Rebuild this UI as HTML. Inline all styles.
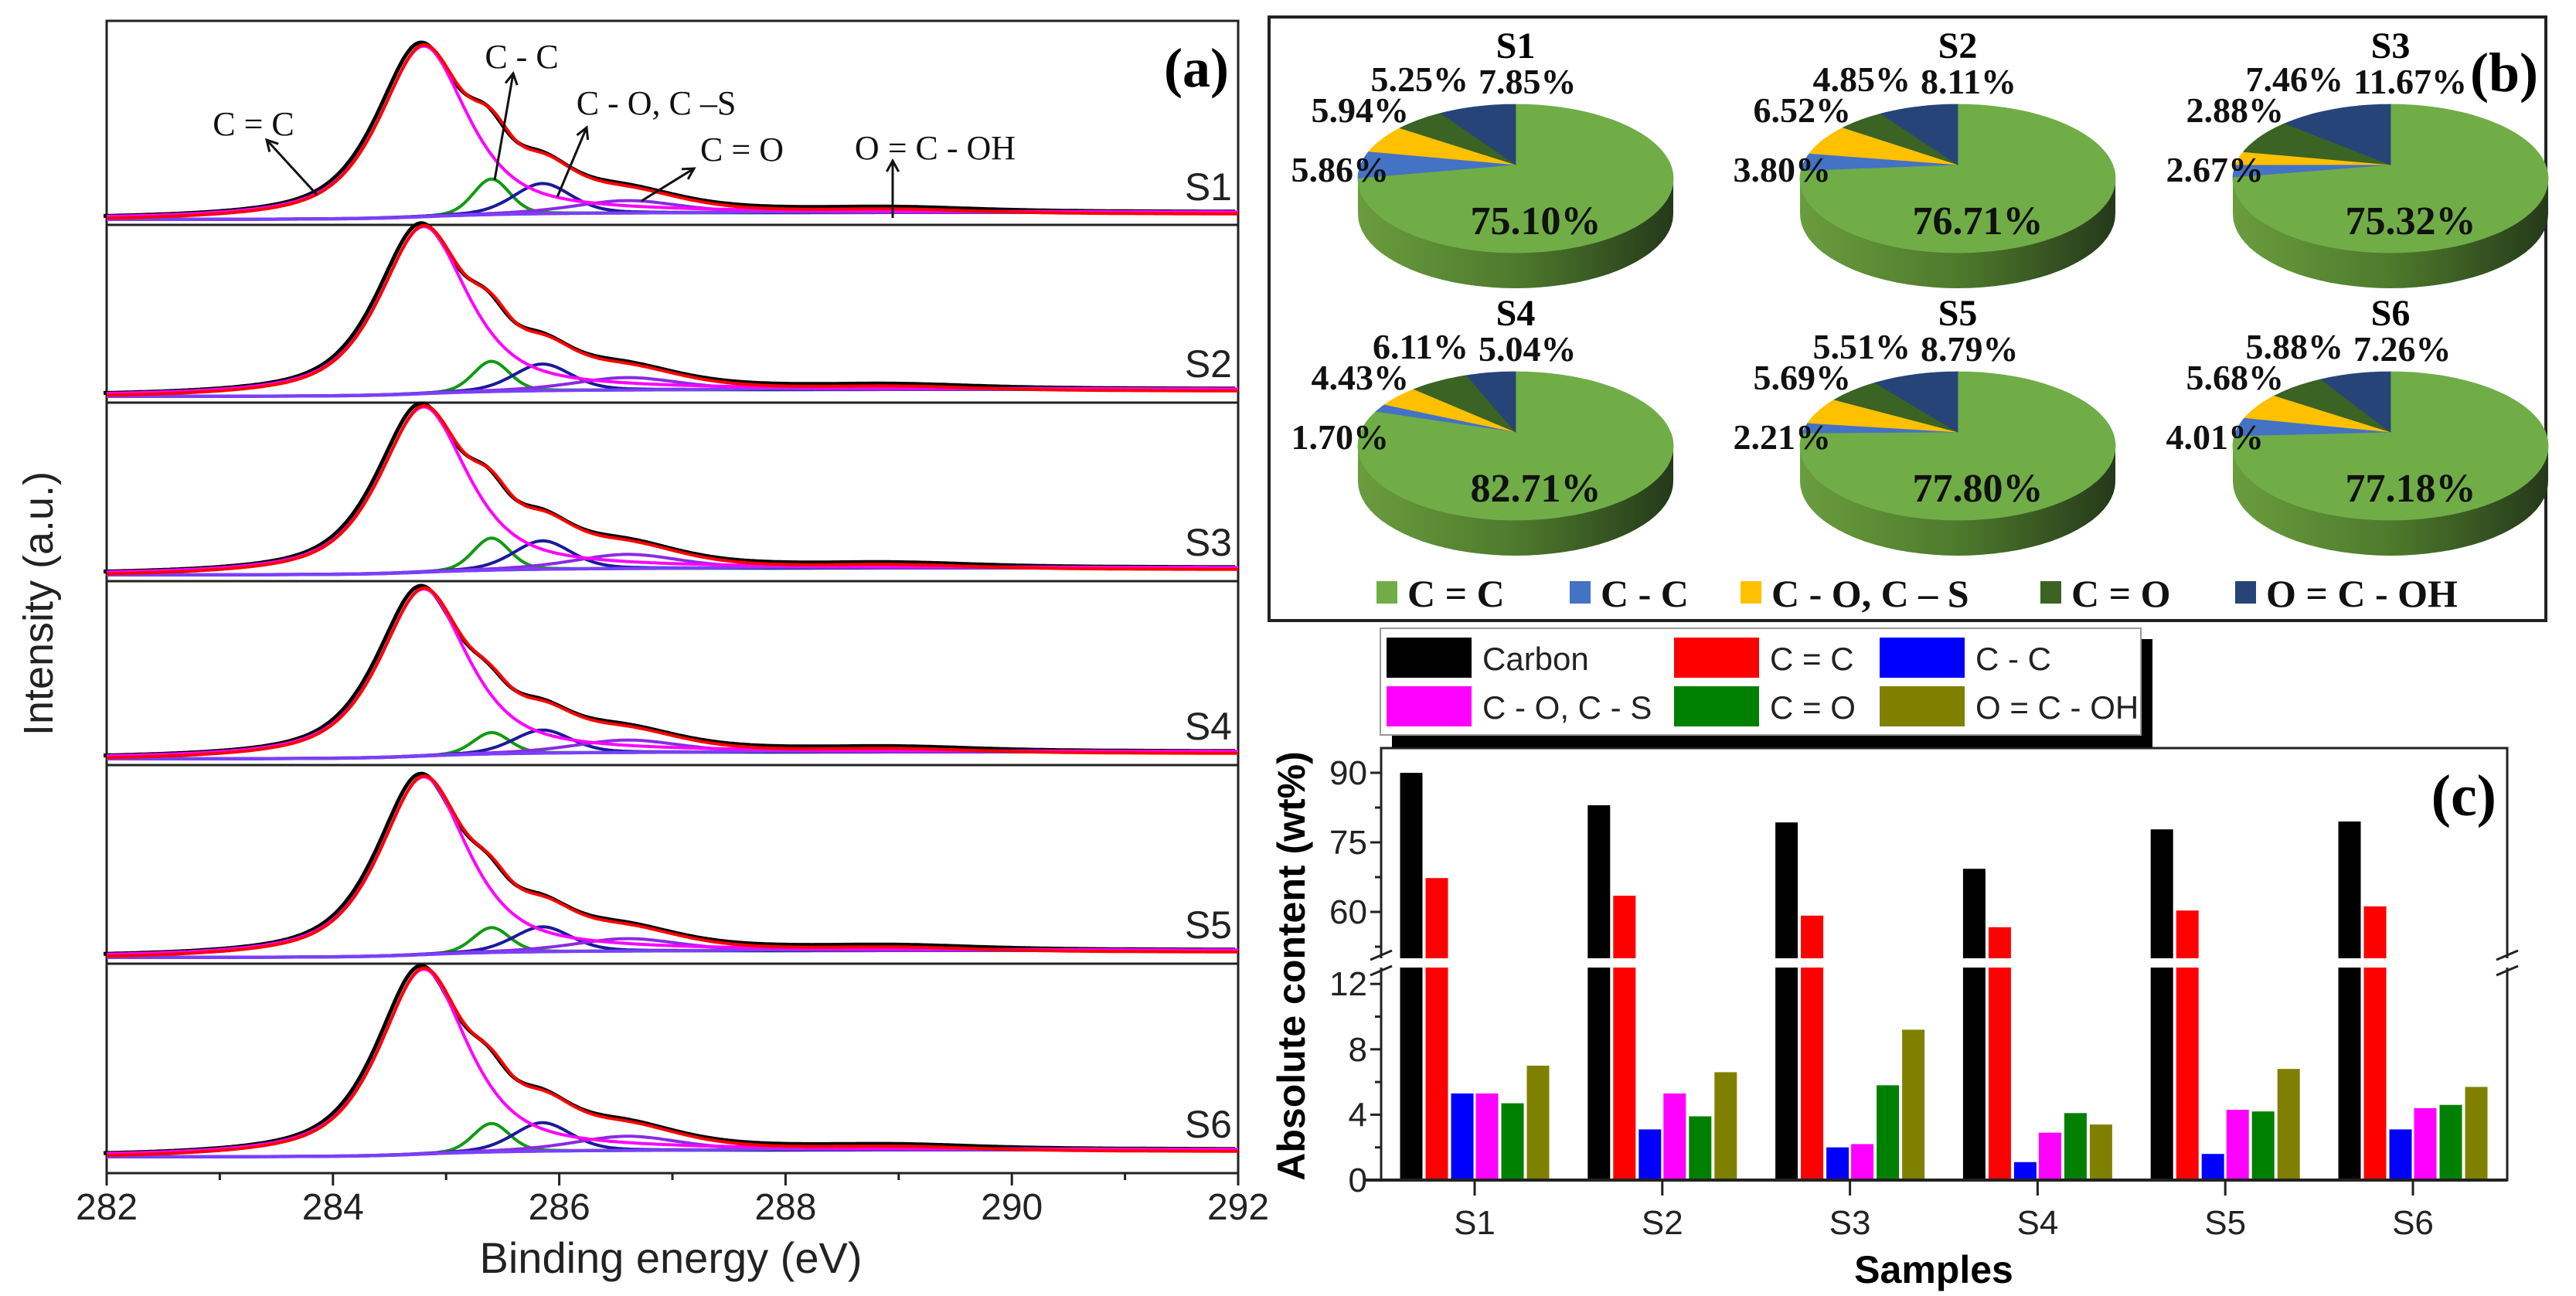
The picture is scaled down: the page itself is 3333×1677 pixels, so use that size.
<!DOCTYPE html>
<html><head><meta charset="utf-8">
<style>
html,body{margin:0;padding:0;background:#fff;}
svg{display:block;}
.ar{font-family:"Liberation Sans",Arial,sans-serif;}
.tm{font-family:"Liberation Serif","Times New Roman",serif;}
</style></head>
<body>
<svg id="fig" width="3333" height="1677" viewBox="0 0 3333 1677" xmlns="http://www.w3.org/2000/svg">
<defs>
<linearGradient id="sideG" x1="0" x2="1" y1="0" y2="0">
<stop offset="0" stop-color="#6a9c3e"/><stop offset="0.5" stop-color="#4e7a2c"/><stop offset="1" stop-color="#25391a"/>
</linearGradient>
</defs>
<g id="pa"></g>
<g id="pb"></g>
<g id="pc"></g>
</svg>
<script>
// ---------- Panel (a) data ----------
const xpsSamples = ["S1","S2","S3","S4","S5","S6"];
const mainAmp = [0.96,0.94,0.93,0.94,1.0,1.04];     // C=C peak (relative)
const ccAmp   = [0.20,0.17,0.18,0.12,0.14,0.16];    // C-C
const coAmp   = [0.17,0.15,0.16,0.13,0.14,0.16];    // C-O, C-S
const c_oAmp  = [0.07,0.07,0.08,0.07,0.07,0.08];    // C=O
const ocohAmp = [0.02,0.02,0.02,0.02,0.02,0.02];    // O=C-OH
const xTicks = [282,284,286,288,290,292];

// ---------- Panel (b) data ----------
const pieSamples = ["S1","S2","S3","S4","S5","S6"];
const pieCC   = [75.10,76.71,75.32,82.71,77.80,77.18];
const pieCCs  = [5.86,3.80,2.67,1.70,2.21,4.01];
const pieCO   = [5.94,6.52,2.88,4.43,5.69,5.68];
const pieC_O  = [5.25,4.85,7.46,6.11,5.51,5.88];
const pieOCOH = [7.85,8.11,11.67,5.04,8.79,7.26];
const pieLegend = ["C = C","C - C","C - O, C \u2013 S","C = O","O = C - OH"];

// ---------- Panel (c) data ----------
const barSamples = ["S1","S2","S3","S4","S5","S6"];
const carbon  = [90.0,83.0,79.3,69.3,77.8,79.5];
const ccDbl   = [67.3,63.5,59.2,56.7,60.3,61.2];
const ccSgl   = [5.3,3.1,2.0,1.1,1.6,3.1];
const coCs    = [5.3,5.3,2.2,2.9,4.3,4.4];
const cdo     = [4.7,3.9,5.8,4.1,4.2,4.6];
const ocoh    = [7.0,6.6,9.2,3.4,6.8,5.7];
const upperTicks = [60,75,90];
const lowerTicks = [0,4,8,12];
const barLegend = ["Carbon","C = C","C - C","C - O, C - S","C = O","O = C - OH"];

const NS="http://www.w3.org/2000/svg";
function mk(parent,tag,attrs,text){const e=document.createElementNS(NS,tag);for(const k in attrs)e.setAttribute(k,attrs[k]);if(text!==undefined)e.textContent=text;parent.appendChild(e);return e;}

// ================= Panel A =================
(function(){
const g=document.getElementById('pa');
const L=138,R=1602,T=27,B=1518;
const xs=e=>L+(e-282)*(R-L)/10;
const dividers=[291,521,752,990,1247];
const bases=[284,513,744,982,1239,1497];
const scale=230;
function pv(x,c,w,m){const d=(x-c)/w;return m/(1+4*d*d)+(1-m)*Math.exp(-2.7726*d*d);}
let box=mk(g,'rect',{x:L,y:T,width:R-L,height:B-T,fill:'none',stroke:'#222','stroke-width':3});

dividers.forEach((y,i)=>{const l=mk(g,'line',{x1:L,x2:R,y1:y,y2:y,stroke:'#222','stroke-width':3});
});
const xsArr=[];for(let e=282;e<=292.0001;e+=0.02)xsArr.push(e);
xpsSamples.forEach((s,k)=>{
  const base=bases[k];
  const comps=[
    {f:e=>mainAmp[k]*pv(e,284.8,0.92,0.7),col:'#ff00ff',n:'c=c'},
    {f:e=>ccAmp[k]*pv(e,285.4,0.38,0.2),col:'#119a11',n:'c-c'},
    {f:e=>coAmp[k]*pv(e,285.85,0.6,0.3),col:'#1a1a9a',n:'c-o'},
    {f:e=>c_oAmp[k]*pv(e,286.6,1.1,0.4),col:'#8a2be2',n:'c=o'},
    {f:e=>ocohAmp[k]*pv(e,289.0,1.6,0.4),col:'#7b3fff',n:'o=c-oh'}
  ];
  const tot=xsArr.map(e=>comps.reduce((a,c)=>a+c.f(e),0));
  const cum=[];let acc=0;tot.forEach(v=>{acc+=v;cum.push(acc);});
  const bg=cum.map(v=>0.04*v/acc);
  const Y=v=>base-v*scale;
  const path=fn=>xsArr.map((e,i)=>(i?'L':'M')+xs(e).toFixed(1)+','+Y(fn(i)).toFixed(1)).join('');
  let p=mk(g,'path',{d:path(i=>bg[i]),fill:'none',stroke:'#6a1fd0','stroke-width':4});
  
  comps.slice(1).forEach(c=>{const q=mk(g,'path',{d:path(i=>bg[i]+c.f(xsArr[i])),fill:'none',stroke:c.col,'stroke-width':4});
    });
  const env=i=>bg[i]+tot[i]+0.05*pv(xsArr[i],286.3,1.6,0.8);
  const bk=mk(g,'path',{d:xsArr.map((e,i)=>(i?'L':'M')+(xs(e)-4).toFixed(1)+','+Y(env(i)).toFixed(1)).join(''),fill:'none',stroke:'#000','stroke-width':5});
  
  const mg=mk(g,'path',{d:path(i=>bg[i]+comps[0].f(xsArr[i])),fill:'none',stroke:'#ff00ff','stroke-width':4});
  
  const rd=mk(g,'path',{d:xsArr.map((e,i)=>(i?'L':'M')+xs(e).toFixed(1)+','+(Y(env(i))+3).toFixed(1)).join(''),fill:'none',stroke:'#ff0000','stroke-width':4});
  
  const t=mk(g,'text',{x:1594,y:base-25,'text-anchor':'end','font-size':50,class:'ar',fill:'#222'},s);
  
});
xTicks.forEach(v=>{const x=xs(v);
  const l=mk(g,'line',{x1:x,x2:x,y1:B,y2:B+16,stroke:'#222','stroke-width':3});
  
  const t=mk(g,'text',{x:x,y:1578,'text-anchor':'middle','font-size':48,class:'ar',fill:'#222'},v);
  
  if(v<292){const m=mk(g,'line',{x1:xs(v+1),x2:xs(v+1),y1:B,y2:B+9,stroke:'#222','stroke-width':3});
  }
});
let t=mk(g,'text',{x:868,y:1647,'text-anchor':'middle','font-size':56,class:'ar',fill:'#222'},'Binding energy (eV)');

t=mk(g,'text',{x:0,y:0,transform:'translate(68,781) rotate(-90)','text-anchor':'middle','font-size':54,class:'ar',fill:'#222'},'Intensity (a.u.)');

t=mk(g,'text',{x:1590,y:112,'text-anchor':'end','font-size':72,'font-weight':'bold',class:'tm'},'(a)');

const ann=[["C = C",328,175,410,252,345,181],["C - C",675,88,640,233,664,95],["C - O, C \u2013S",849,148,721,255,759,165],["C = O",960,208,830,260,898,218],["O = C - OH",1210,206,1155,282,1155,208]];
ann.forEach(a=>{
  const tx=mk(g,'text',{x:a[1],y:a[2],'text-anchor':'middle','font-size':44,class:'tm',fill:'#111'},a[0]);
  
  const l=mk(g,'line',{x1:a[3],y1:a[4],x2:a[5],y2:a[6],stroke:'#111','stroke-width':3});
  
  const ang=Math.atan2(a[6]-a[4],a[5]-a[3]);const h=16;
  const p=[[a[5],a[6]],[a[5]-h*Math.cos(ang-0.5),a[6]-h*Math.sin(ang-0.5)],[a[5],a[6]],[a[5]-h*Math.cos(ang+0.5),a[6]-h*Math.sin(ang+0.5)]];
  const hd=mk(g,'polyline',{points:p.map(q=>q.join(',')).join(' '),fill:'none',stroke:'#111','stroke-width':3});
  
});
})();

// ================= Panel B =================
(function(){
const g=document.getElementById('pb');
let b=mk(g,'rect',{x:1642,y:22,width:3294-1642,height:803-22,fill:'none',stroke:'#222','stroke-width':4});

const cols=['#70ad47','#4472c4','#ffc000','#3b6324','#264478'];
const sideCols=['url(#sideG)','#2f5597','#bf9000','#2a4a1a','#1a2f55'];
const cxs=[1961,2533,3093],apexY=[213,559];
const rx=204,ry=96,dep=46,apexOff=18;
const P=(cx,cy,t)=>[cx+rx*Math.cos(t),cy+ry*Math.sin(t)];
pieSamples.forEach((s,k)=>{
  const cx=cxs[k%3],ay=apexY[Math.floor(k/3)],cy=ay+apexOff;
  const vals=[pieCC[k],pieCCs[k],pieCO[k],pieC_O[k],pieOCOH[k]];
  const tot=vals.reduce((a,c)=>a+c,0);
  let t0=-Math.PI/2;const sl=[];
  vals.forEach((v,i)=>{const t1=t0+2*Math.PI*v/tot;sl.push([t0,t1]);t0=t1;});
  sl.forEach((r,i)=>{
    for(const off of [0,2*Math.PI]){
      const a2=Math.max(r[0],off),b2=Math.min(r[1],Math.PI+off);
      if(b2>a2){const pts=[];const n=40;
        for(let j=0;j<=n;j++){const t=a2+(b2-a2)*j/n;pts.push(P(cx,cy,t));}
        for(let j=n;j>=0;j--){const t=a2+(b2-a2)*j/n;const q=P(cx,cy,t);pts.push([q[0],q[1]+dep]);}
        const pp=mk(g,'polygon',{points:pts.map(q=>q[0].toFixed(1)+','+q[1].toFixed(1)).join(' '),fill:sideCols[i]});
        }
    }
  });
  // face base (full ellipse in green to avoid seams)
  sl.forEach((r,i)=>{
    const pts=[[cx,ay]];const n=Math.max(4,Math.ceil((r[1]-r[0])*30));
    for(let j=0;j<=n;j++){pts.push(P(cx,cy,r[0]+(r[1]-r[0])*j/n));}
    const pa=mk(g,'polygon',{points:pts.map(q=>q[0].toFixed(1)+','+q[1].toFixed(1)).join(' '),fill:cols[i],stroke:cols[i],'stroke-width':0.8});
    
  });
  const tt=mk(g,'text',{x:cx,y:ay-138,'text-anchor':'middle','font-size':48,'font-weight':'bold',class:'tm'},s);
  
  const fmt=v=>v.toFixed(2)+'%';
  const lab=[[cx+26,ay+90,'middle',0],[cx-164,ay+22,'end',1],[cx-138,ay-55,'end',2],[cx-61,ay-95,'end',3],[cx-48,ay-92,'start',4]];
  lab.forEach(l=>{const te=mk(g,'text',{x:l[0],y:l[1],'text-anchor':l[2],'font-size':l[3]==0?52:46,'font-weight':'bold',class:'tm',fill:'#111'},fmt(vals[l[3]]));
    });
});
const lx=[1781,2031,2252,2640,2892];
pieLegend.forEach((n,i)=>{
  const r=mk(g,'rect',{x:lx[i],y:752,width:27,height:29,fill:cols[i]});
  
  const t=mk(g,'text',{x:lx[i]+40,y:785,'font-size':50,'font-weight':'bold',class:'tm',fill:'#111'},n);
  
});
const pl=mk(g,'text',{x:3284,y:118,'text-anchor':'end','font-size':72,'font-weight':'bold',class:'tm'},'(b)');

})();

// ================= Panel C =================
(function(){
const g=document.getElementById('pc');
const L=1787,R=3244,T=968,B=1527;
const yU=v=>1000+(90-v)*6.0;
const yL=v=>B-v*21.15;
const gapTop=1240,gapBot=1252;
const series=[carbon,ccDbl,ccSgl,coCs,cdo,ocoh];
const cols=['#000000','#ff0000','#0000ff','#ff00ff','#008000','#808000'];
const gx=i=>1908+i*242.8;
const offs=[-82,-49,-16,16,49,82];
let fr=mk(g,'rect',{x:L,y:T,width:R-L,height:B-T,fill:'none',stroke:'#222','stroke-width':3});

series.forEach((arr,si)=>{
  arr.forEach((v,i)=>{
    const x=gx(i)+offs[si]-14.5;
    if(v<=12){const r=mk(g,'rect',{x:x,y:yL(v),width:29,height:B-yL(v),fill:cols[si]});
      }
    else{
      const r1=mk(g,'rect',{x:x,y:gapBot,width:29,height:B-gapBot,fill:cols[si]});
      
      const top=Math.min(yU(v),gapTop);
      const r2=mk(g,'rect',{x:x,y:top,width:29,height:gapTop-top,fill:cols[si]});
      
    }
  });
});
let gp=mk(g,'rect',{x:L-20,y:gapTop,width:R-L+40,height:gapBot-gapTop,fill:'#fff'});

[L,R].forEach(x=>{[gapTop-4,gapBot+4].forEach(y=>{const l=mk(g,'line',{x1:x-14,y1:y+6,x2:x+14,y2:y-6,stroke:'#222','stroke-width':3});
  });});
let ax=mk(g,'line',{x1:L-20,x2:R,y1:B,y2:B,stroke:'#222','stroke-width':4});

upperTicks.forEach(v=>{const y=yU(v);
  const l=mk(g,'line',{x1:L-14,x2:L,y1:y,y2:y,stroke:'#222','stroke-width':3});
  
  const t=mk(g,'text',{x:L-18,y:y+15,'text-anchor':'end','font-size':44,class:'ar',fill:'#222'},v);
  
  const m=mk(g,'line',{x1:L-8,x2:L,y1:yU(v-7.5),y2:yU(v-7.5),stroke:'#222','stroke-width':3});
  
});
lowerTicks.forEach(v=>{const y=yL(v);
  const l=mk(g,'line',{x1:L-14,x2:L,y1:y,y2:y,stroke:'#222','stroke-width':3});
  
  const t=mk(g,'text',{x:L-18,y:y+15,'text-anchor':'end','font-size':44,class:'ar',fill:'#222'},v);
  
  if(v<12){const m=mk(g,'line',{x1:L-8,x2:L,y1:yL(v+2),y2:yL(v+2),stroke:'#222','stroke-width':3});
  }
});
barSamples.forEach((s,i)=>{const x=gx(i);
  const l=mk(g,'line',{x1:x,x2:x,y1:B,y2:B+20,stroke:'#222','stroke-width':3});
  
  const t=mk(g,'text',{x:x,y:1597,'text-anchor':'middle','font-size':44,class:'ar',fill:'#222'},s);
  
});
let t=mk(g,'text',{x:2502,y:1660,'text-anchor':'middle','font-size':50,'font-weight':'bold',class:'ar'},'Samples');

t=mk(g,'text',{x:0,y:0,transform:'translate(1688,1250) rotate(-90)','text-anchor':'middle','font-size':50,'font-weight':'bold',class:'ar'},'Absolute content (wt%)');

t=mk(g,'text',{x:3230,y:1055,'text-anchor':'end','font-size':76,'font-weight':'bold',class:'tm'},'(c)');

let sh=mk(g,'rect',{x:1801,y:827,width:984,height:140,fill:'#000'});

let lb=mk(g,'rect',{x:1786,y:813,width:984,height:138,fill:'#fff',stroke:'#999','stroke-width':2});

const lxs=[1794,2166,2432],lys=[825,888];
barLegend.forEach((n,i)=>{const x=lxs[i%3],y=lys[Math.floor(i/3)];
  const r=mk(g,'rect',{x:x,y:y,width:110,height:52,fill:cols[i]});
  
  const tx=mk(g,'text',{x:x+124,y:y+42,'font-size':42,class:'ar',fill:'#222'},n);
  
});
})();
</script>
</body></html>
